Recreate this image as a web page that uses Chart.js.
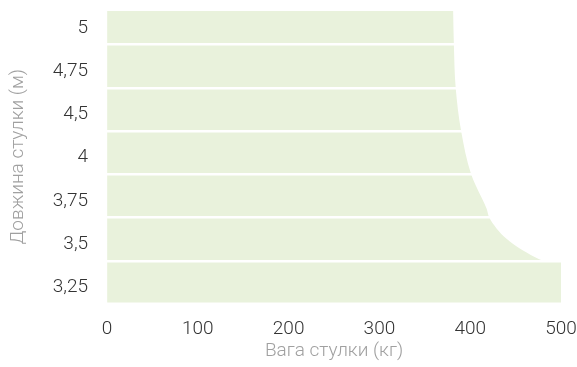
<!DOCTYPE html>
<html>
<head>
<meta charset="utf-8">
<script src="https://cdn.jsdelivr.net/npm/chart.js@4/dist/chart.umd.min.js"></script>
<style>
  html, body { margin: 0; padding: 0; background: #fff; }
  #wrap { width: 577px; height: 367px; }
</style>
</head>
<body>
<div id="wrap"><canvas id="chart"></canvas></div>
<script>
// row labels, top to bottom (row position 6 .. 0)
const lengthLabels = ["5", "4,75", "4,5", "4", "3,75", "3,5", "3,25"];

// edge of the allowed area: row position (0 = bottom row) -> max weight, kg
const curvePos = [0.5, 0.59, 0.78, 1.01, 1.25, 1.5, 1.71, 1.94, 2.25, 2.5, 3.5, 4.5, 5.5, 6.5];
const curveWeight = [480, 471, 455, 440, 429, 421, 418, 413, 406, 401, 390, 384, 382, 381];

// bottom row (3,25 m) goes all the way
const bottomPos = [-0.6, 0.5];
const bottomWeight = [500, 500];

const xTicks = [0, 100, 200, 300, 400, 500];
// white separators between the rows
const rowLines = [0.5, 1.5, 2.5, 3.5, 4.5, 5.5];

const yMin = -0.46;
const yMax = 6.275;

const fillColor = "rgb(233, 242, 220)";
const font = { family: "Roboto", weight: 300, size: 19 };

const toPoints = (xs, ys) => xs.map((x, i) => ({ x: x, y: ys[i] }));

new Chart(document.getElementById("chart").getContext("2d"), {
    type: "line",
    data: {
        datasets: [
            {
                data: toPoints(curveWeight, curvePos),
                backgroundColor: fillColor,
                borderWidth: 0,
                pointRadius: 0,
                cubicInterpolationMode: "monotone",
                fill: "origin",
            },
            {
                data: toPoints(bottomWeight, bottomPos),
                backgroundColor: fillColor,
                borderWidth: 0,
                pointRadius: 0,
                tension: 0,
                fill: "origin",
            },
        ],
    },
    options: {
        indexAxis: "y",
        responsive: true,
        maintainAspectRatio: false,
        animation: false,
        layout: { padding: { left: 3, right: 0, top: 11, bottom: 4 } },
        plugins: { legend: { display: false }, tooltip: { enabled: false } },
        scales: {
            x: {
                type: "linear",
                min: 0,
                max: 500,
                afterBuildTicks: (axis) => {
                    axis.ticks = xTicks.map((v) => ({ value: v }));
                },
                afterFit: (axis) => {
                    axis.paddingLeft = 0;
                    axis.paddingRight = 16;
                    // tick padding is counted twice, take the lower half back
                    axis.height -= 17;
                },
                grid: { display: false, drawTicks: false },
                border: { display: false },
                ticks: { color: "#333", font: font, padding: 15, maxRotation: 0 },
                title: {
                    display: true,
                    text: "Вага стулки (кг)",
                    color: "#a0a0a0",
                    font: font,
                    padding: { top: 2, bottom: 0 },
                },
            },
            y: {
                type: "linear",
                min: yMin,
                max: yMax,
                afterBuildTicks: (axis) => {
                    const t = [];
                    for (let v = 0; v <= 6; v += 0.5) t.push({ value: v });
                    axis.ticks = t;
                },
                afterFit: (axis) => {
                    // labels sit inside the rows, no room needed above/below
                    axis.paddingTop = 0;
                    axis.paddingBottom = 0;
                },
                grid: {
                    z: 1,
                    drawTicks: false,
                    lineWidth: 2.5,
                    color: (ctx) =>
                        ctx.tick && rowLines.includes(ctx.tick.value) ? "#ffffff" : "rgba(0,0,0,0)",
                },
                border: { display: false },
                ticks: {
                    autoSkip: false,
                    color: "#333",
                    font: font,
                    padding: 19,
                    labelOffset: 5,
                    callback: (v) => (Number.isInteger(v) ? lengthLabels[6 - v] : ""),
                },
                title: {
                    display: true,
                    text: "Довжина стулки (м)",
                    color: "#a0a0a0",
                    font: font,
                    padding: { top: 4, bottom: 4 },
                },
            },
        },
    },
});
</script>
</body>
</html>
